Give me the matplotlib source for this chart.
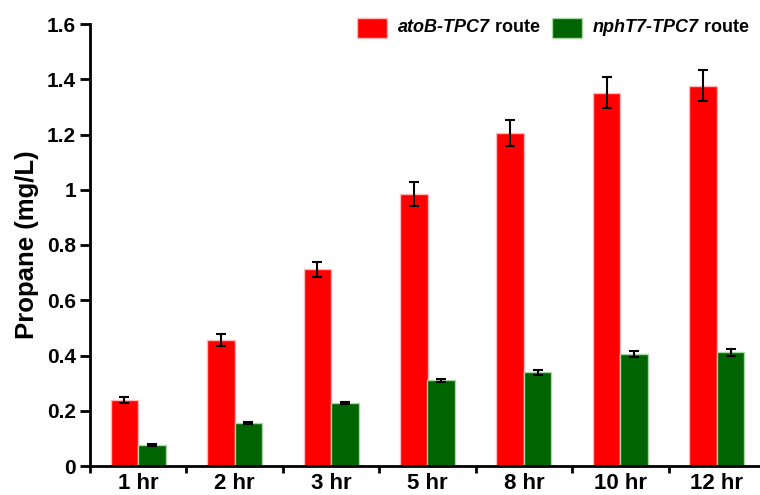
import matplotlib
matplotlib.use("Agg")
import matplotlib.pyplot as plt
from matplotlib.patches import Rectangle
import numpy as np

plt.rcParams['font.family'] = ['Liberation Sans', 'DejaVu Sans']

categories = ["1 hr", "2 hr", "3 hr", "5 hr", "8 hr", "10 hr", "12 hr"]
atob_vals = [0.238, 0.456, 0.712, 0.985, 1.205, 1.352, 1.377]
atob_err = [0.011, 0.021, 0.028, 0.043, 0.047, 0.055, 0.055]
npht_vals = [0.076, 0.155, 0.228, 0.310, 0.339, 0.406, 0.411]
npht_err = [0.003, 0.003, 0.005, 0.006, 0.010, 0.011, 0.013]
yticks = [0, 0.2, 0.4, 0.6, 0.8, 1.0, 1.2, 1.4, 1.6]
yticklabels = ["0", "0.2", "0.4", "0.6", "0.8", "1", "1.2", "1.4", "1.6"]
legend_italic = ["atoB-TPC7", "nphT7-TPC7"]
legend_rest = " route"

W, H = 760, 495
fig = plt.figure(figsize=(W/100, H/100), dpi=100)
ax = fig.add_axes([90/W, 29/H, 675/W, 442/H])

red, red_edge = '#FF0000', '#FFB8B8'
green, green_edge = '#006400', '#A8D8A8'

x = np.arange(len(categories))
w = 0.285
ekw = dict(elinewidth=1.5, capthick=1.5, ecolor='black')
ax.bar(x - w/2, atob_vals, w, color=red, edgecolor=red_edge, linewidth=1,
       yerr=atob_err, capsize=3.5, error_kw=ekw, zorder=2)
ax.bar(x + w/2, npht_vals, w, color=green, edgecolor=green_edge, linewidth=1,
       yerr=npht_err, capsize=3.5, error_kw=ekw, zorder=2)

ax.set_xlim(-0.5, 6.5)
ax.set_ylim(0, 1.6)
ax.set_yticks(yticks)
ax.set_yticklabels(yticklabels, fontsize=15, fontweight='bold')
ax.set_xticks(x)
ax.set_xticklabels(categories, fontsize=16, fontweight='bold')
ax.tick_params(axis='x', which='major', length=0, pad=5)
ax.set_xticks(np.arange(-0.5, 6.6, 1.0), minor=True)
ax.tick_params(axis='x', which='minor', length=5, width=2, direction='out')
ax.tick_params(axis='y', length=7, width=2, direction='out', pad=3)

for s in ['top', 'right']:
    ax.spines[s].set_visible(False)
for s in ['left', 'bottom']:
    ax.spines[s].set_linewidth(2)

ax.set_ylabel('Propane (mg/L)', fontsize=18.5, fontweight='bold', labelpad=6)

# legend drawn manually at top right (pixel positions)
fig.canvas.draw()
renderer = fig.canvas.get_renderer()
patch_x = [357, 552]
colors = [(red, red_edge), (green, green_edge)]
yc = H - 28
for px, (fc, ec), it in zip(patch_x, colors, legend_italic):
    fig.patches.append(Rectangle((px/W, (yc-10)/H), 30/W, 20/H, transform=fig.transFigure,
                                 facecolor=fc, edgecolor=ec, linewidth=1, figure=fig))
    t1 = fig.text((px + 41)/W, yc/H, it, fontsize=13, fontweight='bold', fontstyle='italic',
                  va='center', ha='left')
    b1 = t1.get_window_extent(renderer)
    fig.text(b1.x1/W, yc/H, legend_rest, fontsize=13, fontweight='bold', va='center', ha='left')

fig.savefig('out.png', dpi=100)
